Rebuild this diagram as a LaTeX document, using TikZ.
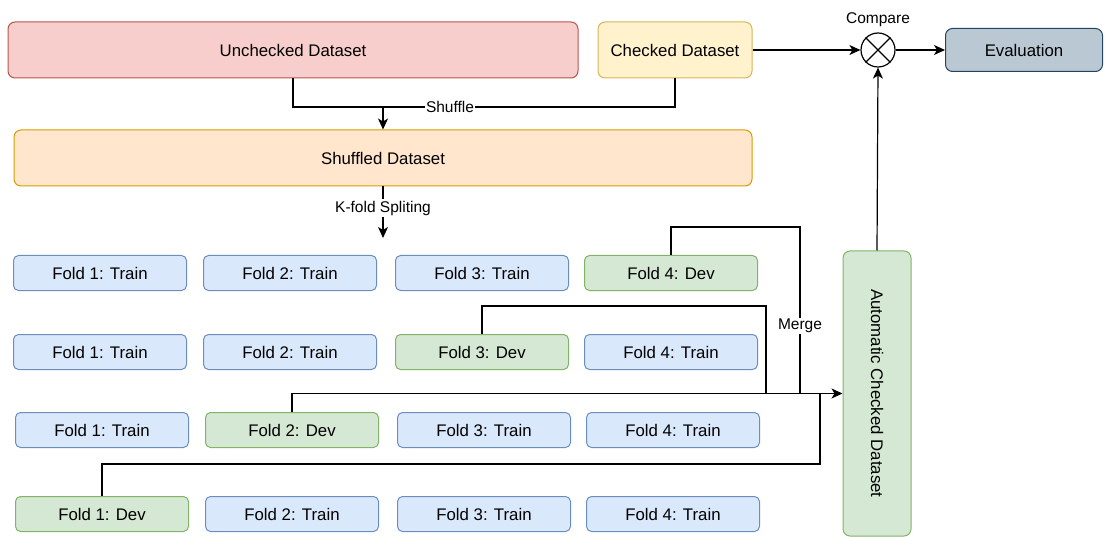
\documentclass[tikz,border=0pt]{standalone}
\usepackage{fontspec}
\setmainfont{Liberation Sans}
\usetikzlibrary{arrows.meta}
\definecolor{redfill}{HTML}{F8CECC}  \definecolor{redline}{HTML}{B85450}
\definecolor{yelfill}{HTML}{FFF2CC}  \definecolor{yelline}{HTML}{D6B656}
\definecolor{orafill}{HTML}{FFE6CC}  \definecolor{oraline}{HTML}{D79B00}
\definecolor{grefill}{HTML}{D5E8D4}  \definecolor{greline}{HTML}{82B366}
\definecolor{blufill}{HTML}{DAE8FC}  \definecolor{bluline}{HTML}{6C8EBF}
\definecolor{evafill}{HTML}{BAC8D3}  \definecolor{evaline}{HTML}{23445D}

\begin{document}
\begin{tikzpicture}[x=1pt,y=-1pt,
  box/.style={draw,rounded corners=7pt,line width=1pt,inner sep=0pt,
    font=\fontsize{16.8}{20}\selectfont},
  fold/.style={box,rounded corners=5pt,minimum width=173pt,minimum height=35pt},
  train/.style={fold,fill=blufill,draw=bluline},
  dev/.style={fold,fill=grefill,draw=greline},
  lbl/.style={font=\fontsize{15.5}{18}\selectfont,fill=white,inner sep=1.5pt},
  wire/.style={line width=1.2pt},
  arr/.style={wire,-{Stealth[length=11pt,width=10pt,inset=3pt]}}]
  \useasboundingbox (0,0) rectangle (1105,537);

  % Datasets
  \node[box,fill=redfill,draw=redline,minimum width=570pt,minimum height=56pt]
    (unchecked) at (293,50) {Unchecked Dataset};
  \node[box,fill=yelfill,draw=yelline,minimum width=154pt,minimum height=56pt]
    (checked) at (675,50) {Checked Dataset};
  \node[box,fill=orafill,draw=oraline,minimum width=738pt,minimum height=56pt]
    (shuffled) at (383,158) {Shuffled Dataset};

  % Compare and evaluation
  \node[circle,draw,line width=1.2pt,minimum size=34pt,inner sep=0pt] (cmp) at (878,50) {};
  \draw[line width=1.2pt] (cmp.north east) -- (cmp.south west)
    (cmp.north west) -- (cmp.south east);
  \node[font=\fontsize{15.5}{18}\selectfont,above=2pt] at (cmp.north) {Compare};
  \node[box,fill=evafill,draw=evaline,minimum width=157pt,minimum height=43pt]
    (eval) at (1024,50) {Evaluation};

  % Automatic checked dataset (rotated: west is its top, south its left side)
  \node[box,fill=grefill,draw=greline,minimum width=285pt,minimum height=68pt,
    rotate=-90] (auto) at (877,393.5) {Automatic Checked Dataset};

  % Folds
  \foreach \r/\y/\dx/\d in {1/273/0/4, 2/352/0/3, 3/430/2/2, 4/514/2/1}
    \foreach \c/\x in {1/100, 2/290, 3/482, 4/671} {
      \ifnum\c=\d \def\kind{dev}\def\role{Dev}\else \def\kind{train}\def\role{Train}\fi
      \node[\kind] (f\r\c) at (\x+\dx,\y) {Fold \c: \role};
    }

  % Shuffle
  \coordinate (sh) at (383,107);
  \draw[wire] (unchecked.south) |- (sh) -| (checked.south);
  \draw[arr] (sh) -- (shuffled.north);
  \node[lbl] at (450,107) {Shuffle};

  % Splitting
  \coordinate (split) at (383,238);
  \draw[arr] (shuffled.south) -- (split)
    node[lbl,pos=.42] {K-fold Spliting};

  % Merge
  \coordinate (c4) at (800,227);
  \coordinate (c3) at (766,306);
  \coordinate (c1) at (820,464);
  \draw[wire] (f14.north) |- (c4) -- (c4 |- auto.south);
  \draw[wire] (f23.north) |- (c3) -- (c3 |- auto.south);
  \draw[wire] (f41.north) |- (c1) -- (c1 |- auto.south);
  \draw[arr] (f32.north) |- (auto.south);
  \node[lbl] at (800,326) {Merge};

  % To compare and evaluation
  \draw[arr] (checked.east) -- (cmp.west);
  \draw[arr] (auto.west) -- (cmp.south);
  \draw[arr] (cmp.east) -- (eval.west);
\end{tikzpicture}
\end{document}
